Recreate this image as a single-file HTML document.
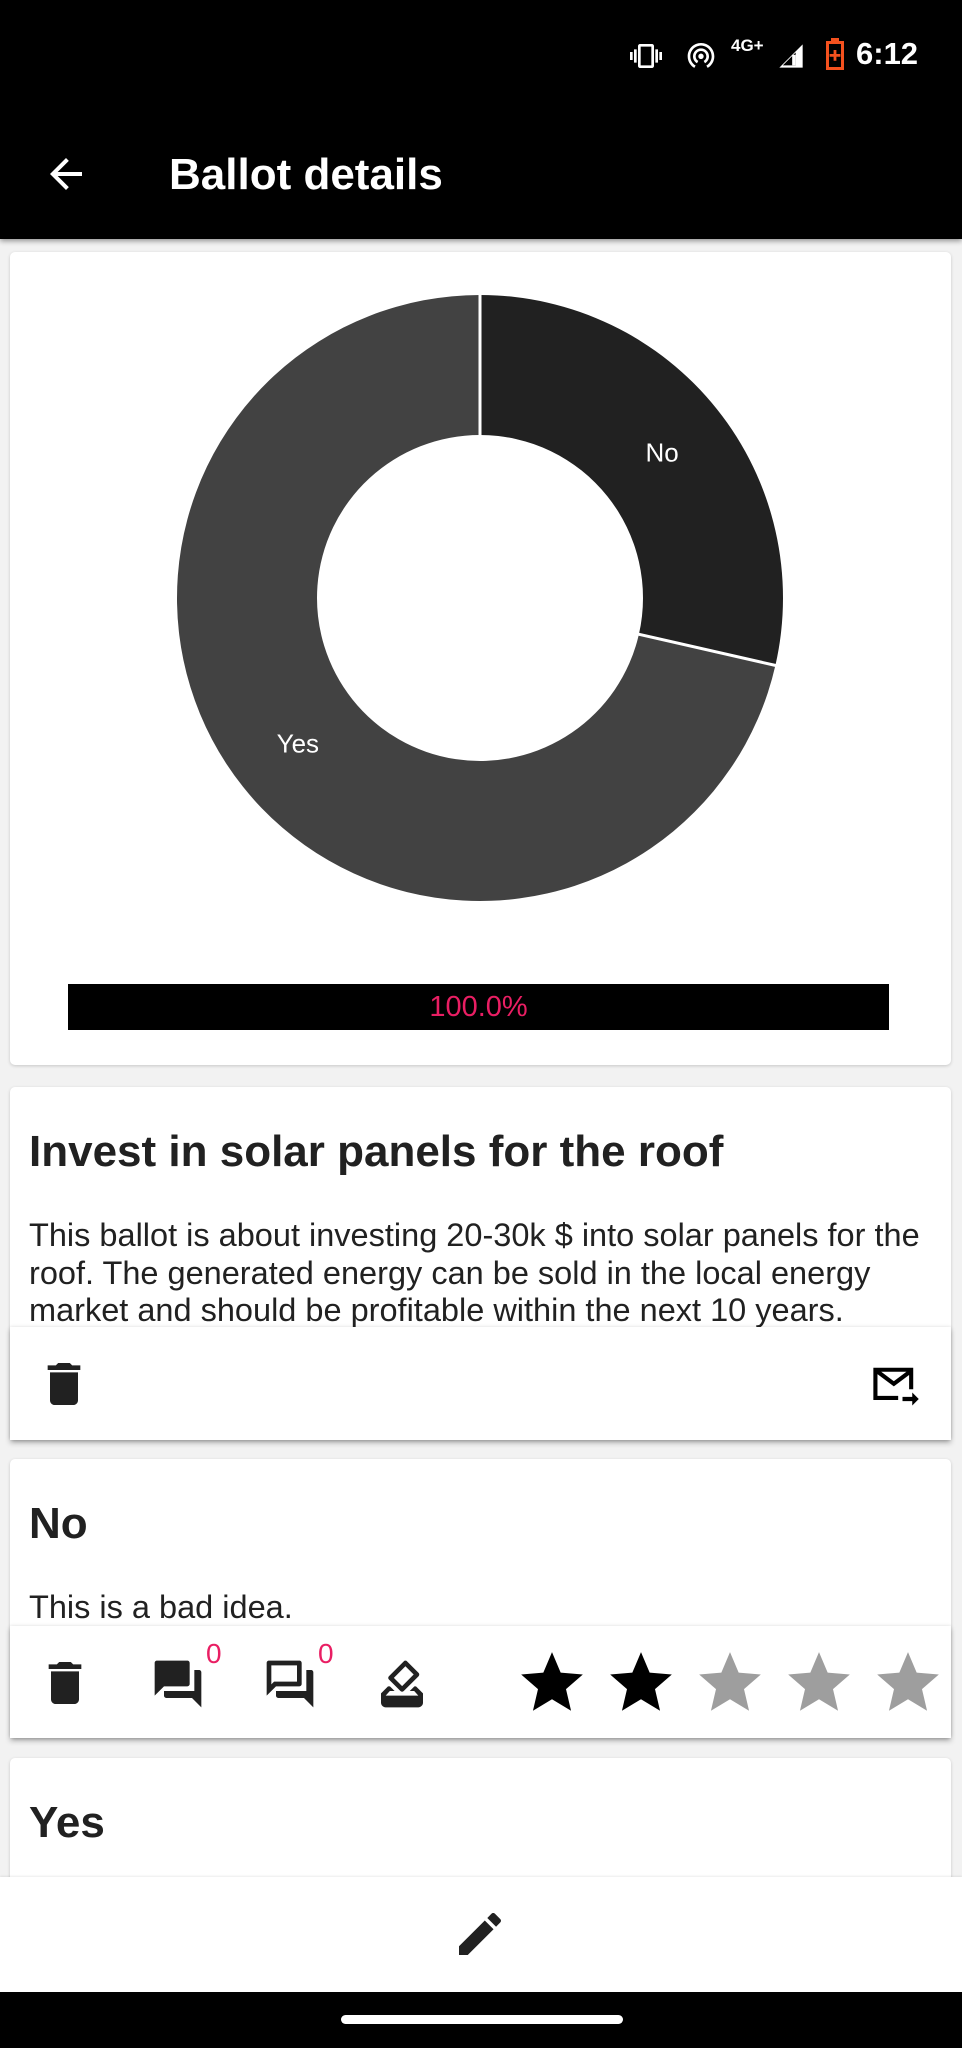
<!DOCTYPE html>
<html><head><meta charset="utf-8"><style>
*{margin:0;padding:0;box-sizing:border-box}
body{width:962px;height:2048px;background:#f2f2f2;font-family:"Liberation Sans",Arial,sans-serif;position:relative;overflow:hidden;color:#212121}
.abs{position:absolute}
.card{position:absolute;left:10px;width:941px;background:#fff;border-radius:5px;box-shadow:0 1px 3px rgba(0,0,0,.18)}
.bar{position:absolute;left:10px;width:941px;background:#fff;box-shadow:0 3px 5px rgba(0,0,0,.25),0 -1px 3px rgba(0,0,0,.06)}
.title{position:absolute;left:19px;font-size:44px;font-weight:bold;color:#212121;white-space:nowrap}
.body{position:absolute;left:19px;font-size:32.5px;line-height:37.5px;color:#212121;white-space:nowrap}
svg.ic{position:absolute}
</style></head><body>
<div class="abs" style="left:0;top:0;width:962px;height:239px;background:#000;box-shadow:0 2px 5px rgba(0,0,0,.4);z-index:2">
  <svg class="ic" style="left:630px;top:40px" width="32" height="32" viewBox="0 0 24 24"><path fill="#fff" d="M0 15h2V9H0v6zm3 2h2V7H3v10zm19-8v6h2V9h-2zm-3 8h2V7h-2v10zM16.5 3h-9C6.67 3 6 3.67 6 4.5v15c0 .83.67 1.5 1.5 1.5h9c.83 0 1.5-.67 1.5-1.5v-15c0-.83-.67-1.5-1.5-1.5zM16 19H8V5h8v14z"/></svg>
  <svg class="ic" style="left:685px;top:39px" width="32" height="32" viewBox="0 0 24 24"><path fill="#fff" d="M12 11c-1.1 0-2 .9-2 2s.9 2 2 2 2-.9 2-2-.9-2-2-2zm6 2c0-3.31-2.690-6-6-6s-6 2.69-6 6c0 2.220 1.21 4.15 3 5.19l1-1.74c-1.19-.7-2-1.97-2-3.45 0-2.21 1.79-4 4-4s4 1.79 4 4c0 1.48-.81 2.75-2 3.450l1 1.74c1.79-1.04 3-2.97 3-5.19zM12 3C6.48 3 2 7.48 2 13c0 3.7 2.01 6.92 4.99 8.65l1-1.73C5.61 18.53 4 15.960 4 13c0-4.42 3.58-8 8-8s8 3.58 8 8c0 2.96-1.61 5.53-4 6.92l1 1.73c2.99-1.73 5-4.95 5-8.65 0-5.52-4.48-10-10-10z"/></svg>
  <div class="abs" style="left:731px;top:36px;color:#fff;font-size:17px;font-weight:bold">4G+</div>
  <svg class="ic" style="left:777px;top:42px" width="28" height="28" viewBox="0 0 24 24"><path fill="#fff" d="M2 22h20V2z"/><path fill="#000" d="M5 20h11V9z"/><path fill="#fff" d="M13 20h3V11h-3z"/></svg>
  <svg class="ic" style="left:825px;top:38px" width="20" height="32" viewBox="0 0 10 16"><path fill="#f4511e" d="M3 0h4v1.5h2.5V16H.5V1.5H3z"/><path fill="#000" d="M2 3h6v11.5H2z"/><path fill="#f4511e" d="M4.3 6h1.4v2h2v1.4h-2v2H4.3v-2h-2V8h2z"/></svg>
  <div class="abs" style="left:856px;top:36px;color:#fff;font-size:31px;font-weight:bold">6:12</div>
  <svg class="ic" style="left:42px;top:150px" width="48" height="48" viewBox="0 0 24 24"><path fill="#fff" d="M20 11H7.83l5.59-5.590L12 4l-8 8 8 8 1.41-1.41L7.83 13H20v-2z"/></svg>
  <div class="abs" style="left:169px;top:150px;color:#fff;font-size:44px;font-weight:bold">Ballot details</div>
</div>

<div class="card" style="top:252px;height:813px">
  <svg id="donut" class="ic" style="left:0;top:0" width="941" height="813"></svg>
  <div class="abs" style="left:58px;top:732px;width:821px;height:46px;background:#000;color:#e91e63;font-size:29px;text-align:center;line-height:46px">100.0%</div>
</div>

<div class="card" style="top:1087px;height:353px">
  <div class="title" style="top:40px">Invest in solar panels for the roof</div>
  <div class="body" style="top:130px">This ballot is about investing 20-30k $ into solar panels for the<br>roof. The generated energy can be sold in the local energy<br>market and should be profitable within the next 10 years.</div>
</div>
<div class="bar" style="top:1327px;height:113px">
  <svg class="ic" style="left:26px;top:29px" width="56" height="56" viewBox="0 0 24 24"><path fill="#212121" d="M6 19c0 1.1.9 2 2 2h8c1.1 0 2-.9 2-2V7H6v12zM19 4h-3.5l-1-1h-5l-1 1H5v2h14V4z"/></svg>
  <svg class="ic" style="left:860px;top:33px" width="52" height="52" viewBox="0 0 24 24"><path fill="none" stroke="#000" stroke-width="1.9" d="M19 13.5V4.5H2.5v13H13M3 5l8 6 8-6"/><path fill="#000" d="M15 17h4.5v-2l3 3-3 3v-2H15z"/></svg>
</div>

<div class="card" style="top:1459px;height:279px">
  <div class="title" style="top:40px">No</div>
  <div class="body" style="top:130px">This is a bad idea.</div>
</div>
<div class="bar" style="top:1626px;height:112px">
  <svg class="ic" style="left:27px;top:29px" width="56" height="56" viewBox="0 0 24 24"><path fill="#212121" d="M6 19c0 1.1.9 2 2 2h8c1.1 0 2-.9 2-2V7H6v12zM19 4h-3.5l-1-1h-5l-1 1H5v2h14V4z"/></svg>
  <svg class="ic" style="left:140px;top:30px" width="56" height="56" viewBox="0 0 24 24"><path fill="#212121" d="M21 6h-2v9H6v2c0 .55.45 1 1 1h11l4 4V7c0-.55-.45-1-1-1zm-4 6V3c0-.55-.45-1-1-1H3c-.55 0-1 .45-1 1v14l4-4h10c.55 0 1-.45 1-1z"/></svg>
  <div class="abs" style="left:196px;top:12px;color:#e91e63;font-size:28px">0</div>
  <svg class="ic" style="left:252px;top:30px" width="56" height="56" viewBox="0 0 24 24"><path fill="#212121" d="M15 4v7H5.17L4 12.17V4h11m1-2H3c-.55 0-1 .45-1 1v14l4-4h10c.55 0 1-.45 1-1V3c0-.55-.45-1-1-1zm5 4h-2v9H6v2c0 .55.45 1 1 1h11l4 4V7c0-.55-.45-1-1-1z"/></svg>
  <div class="abs" style="left:308px;top:12px;color:#e91e63;font-size:28px">0</div>
  <svg class="ic" style="left:364px;top:30px" width="56" height="56" viewBox="0 0 24 24"><path fill="#212121" d="M18 13h-.68l-2 2h1.91L19 17H5l1.78-2h2.05l-2-2H6l-3 3v4c0 1.1.89 2 1.99 2H19c1.1 0 2-.89 2-2v-4l-3-3zm-1-5.05l-4.95 4.95-3.54-3.54 4.95-4.95L17 7.95zm-4.24-5.66L6.39 8.66c-.39.39-.39 1.02 0 1.41l4.95 4.95c.39.39 1.02.39 1.41 0l6.36-6.36c.39-.39.39-1.02 0-1.41L14.16 2.3c-.38-.4-1.01-.4-1.4-.01z"/></svg>
  <div id="stars"></div>
</div>

<div class="card" style="top:1758px;height:200px">
  <div class="title" style="top:40px">Yes</div>
</div>

<div class="abs" style="left:0;top:1877px;width:962px;height:115px;background:#fff;box-shadow:0 -1px 2px rgba(0,0,0,.08)">
  <svg class="ic" style="left:452px;top:29px" width="56" height="56" viewBox="0 0 24 24"><path fill="#212121" d="M3 17.25V21h3.75L17.81 9.94l-3.75-3.75L3 17.25zM20.71 7.04c.39-.39.39-1.02 0-1.41l-2.34-2.34c-.39-.39-1.02-.39-1.41 0l-1.83 1.83 3.75 3.75 1.83-1.83z"/></svg>
</div>
<div class="abs" style="left:0;top:1992px;width:962px;height:56px;background:#000">
  <div class="abs" style="left:341px;top:23px;width:282px;height:9px;border-radius:5px;background:#fff"></div>
</div>

<script>
const categories = ["No", "Yes"];
const voteValues = [2, 5];
const sliceColors = ["#212121", "#424242"];
const starValues = [1, 1, 0, 0, 0];

(function(){
  const svg = document.getElementById('donut');
  const ns = 'http://www.w3.org/2000/svg';
  const cx = 470, cy = 346, R = 303, r = 163;
  const total = voteValues.reduce((a,b)=>a+b,0);
  const angle = v => v / total * Math.PI * 2;
  const pt = (rad, a) => [cx + rad*Math.sin(a), cy - rad*Math.cos(a)];
  let start = 0;
  const bounds = [];
  voteValues.forEach((v,i)=>{
    const end = start + angle(v);
    const large = (end-start) > Math.PI ? 1 : 0;
    const [x1,y1]=pt(R,start),[x2,y2]=pt(R,end),[x3,y3]=pt(r,end),[x4,y4]=pt(r,start);
    const p = document.createElementNS(ns,'path');
    p.setAttribute('d',`M${x1} ${y1}A${R} ${R} 0 ${large} 1 ${x2} ${y2}L${x3} ${y3}A${r} ${r} 0 ${large} 0 ${x4} ${y4}Z`);
    p.setAttribute('fill',sliceColors[i]);
    
    
    svg.appendChild(p);
    const mid = (start+end)/2;
    const [lx,ly] = pt((R+r)/2, mid);
    const t = document.createElementNS(ns,'text');
    t.setAttribute('x',lx); t.setAttribute('y',ly+9);
    t.setAttribute('text-anchor','middle');
    t.setAttribute('fill','#fff');
    t.setAttribute('font-size','26');
    t.setAttribute('font-family','Liberation Sans, Arial, sans-serif');
    t.textContent = categories[i];
    
    
    svg.appendChild(t);
    bounds.push(start);
    start = end;
  });
  bounds.forEach(a=>{
    const [x1,y1]=pt(r-1,a),[x2,y2]=pt(R+1,a);
    const l = document.createElementNS(ns,'line');
    l.setAttribute('x1',x1);l.setAttribute('y1',y1);l.setAttribute('x2',x2);l.setAttribute('y2',y2);
    l.setAttribute('stroke','#fff');l.setAttribute('stroke-width','3');
    
    
    svg.appendChild(l);
  });

  const holder = document.getElementById('stars');
  const starX = i => 542 + i*89;
  starValues.forEach((s,i)=>{
    const el = document.createElementNS(ns,'svg');
    el.setAttribute('class','ic');
    el.setAttribute('width','74');el.setAttribute('height','74');
    el.setAttribute('viewBox','0 0 24 24');
    el.style.left = (starX(i)-37)+'px'; el.style.top = '20px';
    el.innerHTML = '<path fill="'+(s?'#000':'#9e9e9e')+'" d="M12 17.27L18.18 21l-1.64-7.03L22 9.24l-7.19-.61L12 2 9.19 8.63 2 9.24l5.46 4.73L5.82 21z"/>';
    
    
    holder.appendChild(el);
  });
})();
</script>
</body></html>
